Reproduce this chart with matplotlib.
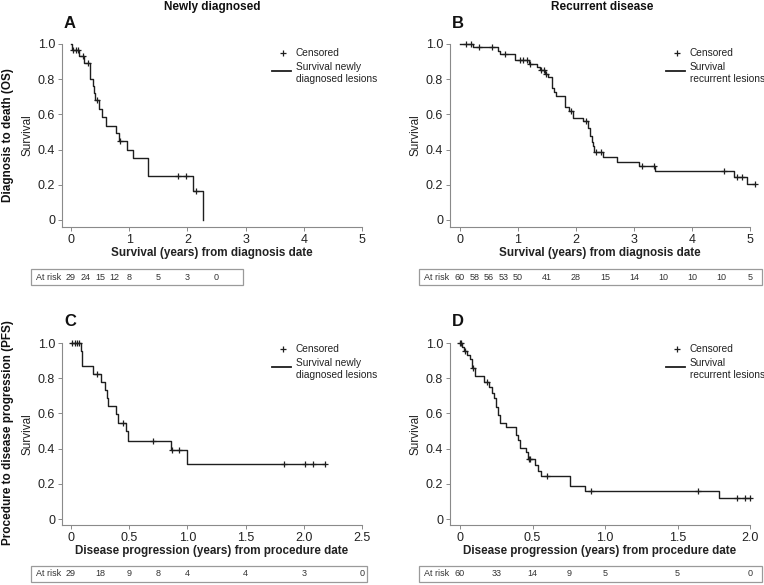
import numpy as np
import matplotlib
matplotlib.use("Agg")
import matplotlib.pyplot as plt
from matplotlib.patches import Rectangle
from matplotlib.lines import Line2D
import matplotlib.transforms as mtransforms

plt.rcParams["font.family"] = ["Liberation Sans", "DejaVu Sans"]

W, H = 764, 585

# ---- data ----
# A: newly diagnosed, OS
a_times = [0.02, 0.13, 0.22, 0.32, 0.38, 0.40, 0.41, 0.48, 0.54, 0.60, 0.78, 0.82,
           0.96, 1.06, 1.32, 1.33, 2.10, 2.27]
a_surv = [0.966, 0.931, 0.893, 0.80, 0.76, 0.72, 0.68, 0.63, 0.585, 0.535, 0.495, 0.45,
          0.40, 0.35, 0.30, 0.25, 0.167, 0.0]
a_cens = [0.04, 0.09, 0.12, 0.20, 0.30, 0.44, 0.85, 1.84, 1.97, 2.14]
a_risk_t = [0, 0.25, 0.5, 0.75, 1.0, 1.5, 2.0, 2.5]
a_risk_n = [29, 24, 15, 12, 8, 5, 3, 0]

# B: recurrent disease, OS
b_times = [0.23, 0.65, 0.69, 0.95, 1.19, 1.33, 1.38, 1.46, 1.52, 1.58, 1.62, 1.66,
           1.81, 1.88, 1.95, 2.12, 2.21, 2.24, 2.27, 2.29, 2.31, 2.47, 2.71, 3.08,
           3.36, 4.73, 4.94]
b_surv = [0.983, 0.963, 0.945, 0.909, 0.885, 0.867, 0.85, 0.83, 0.81, 0.75, 0.73, 0.706,
          0.644, 0.622, 0.582, 0.56, 0.52, 0.48, 0.445, 0.42, 0.385, 0.357, 0.332, 0.307,
          0.28, 0.243, 0.203]
b_cens = [0.10, 0.19, 0.33, 0.56, 0.78, 1.03, 1.09, 1.16, 1.20, 1.40, 1.44, 1.48,
          1.91, 2.18, 2.34, 2.43, 3.14, 3.34, 4.55, 4.77, 4.86, 5.09]
b_risk_t = [0, 0.25, 0.5, 0.75, 1.0, 1.5, 2.0, 2.5, 3.0, 3.5, 4.0, 4.5, 5.0]
b_risk_n = [60, 58, 56, 53, 50, 41, 28, 15, 14, 10, 10, 10, 5]

# C: newly diagnosed, PFS
c_times = [0.083, 0.097, 0.186, 0.26, 0.29, 0.306, 0.32, 0.39, 0.405, 0.477, 0.49,
           0.857, 1.0]
c_surv = [0.955, 0.869, 0.824, 0.78, 0.735, 0.685, 0.64, 0.595, 0.545, 0.50, 0.445,
          0.39, 0.31]
c_cens = [0.006, 0.034, 0.054, 0.071, 0.22, 0.449, 0.706, 0.87, 0.926, 1.834, 2.01,
          2.08, 2.18]
c_risk_t = [0, 0.25, 0.5, 0.75, 1.0, 1.5, 2.0, 2.5]
c_risk_n = [29, 18, 9, 8, 4, 4, 3, 0]

# D: recurrent disease, PFS
d_times = [0.016, 0.03, 0.05, 0.069, 0.085, 0.103, 0.168, 0.20, 0.218, 0.234, 0.246,
           0.264, 0.276, 0.314, 0.388, 0.40, 0.417, 0.456, 0.47, 0.52, 0.539, 0.562,
           0.757, 0.86, 1.787]
d_surv = [0.979, 0.957, 0.932, 0.91, 0.86, 0.814, 0.78, 0.75, 0.714, 0.69, 0.638,
          0.59, 0.544, 0.525, 0.48, 0.45, 0.405, 0.38, 0.34, 0.305, 0.275, 0.245,
          0.19, 0.16, 0.12]
d_cens = [0.0, 0.007, 0.034, 0.087, 0.184, 0.477, 0.486, 0.60, 0.906, 1.64, 1.908,
          1.966, 2.0]
d_risk_t = [0, 0.25, 0.5, 0.75, 1.0, 1.5, 2.0]
d_risk_n = [60, 33, 14, 9, 5, 5, 0]

leg_text_1 = {"A": "Survival newly", "B": "Survival", "C": "Survival newly", "D": "Survival"}
leg_text_2 = {"A": "diagnosed lesions", "B": "recurrent lesions",
              "C": "diagnosed lesions", "D": "recurrent lesions"}

LINE = "#1e1e1e"
SPINE = "#8a8a8a"


def fx(x):
    return x / W


def fy(y):
    return 1 - y / H


def km_panel(fig, box, xlim, ylim, xticks, xticklabels, times, surv, cens,
             letter, xlabel, leg_pos, risk_box, risk_t, risk_n):
    l, t, r, b = box
    ax = fig.add_axes([fx(l), fy(b), fx(r) - fx(l), fy(t) - fy(b)])
    xs = np.r_[0, times]
    ys = np.r_[1.0, surv]
    end = max(cens[-1], times[-1])
    ax.step(np.r_[xs, end], np.r_[ys, ys[-1]], where="post", color=LINE, lw=1.0,
            clip_on=False)
    idx = np.searchsorted(times, cens, side="right")
    ax.plot(cens, ys[idx], "+", color=LINE, ms=4.5, mew=0.9, clip_on=False)

    ax.set_xlim(*xlim)
    ax.set_ylim(*ylim)
    ax.set_xticks(xticks)
    ax.set_xticklabels(xticklabels)
    ax.set_yticks([0, 0.2, 0.4, 0.6, 0.8, 1.0])
    ax.set_yticklabels(["0", "0.2", "0.4", "0.6", "0.8", "1.0"])
    for s in ["top", "right"]:
        ax.spines[s].set_visible(False)
    for s in ["left", "bottom"]:
        ax.spines[s].set_color(SPINE)
        ax.spines[s].set_linewidth(0.8)
    ax.spines["left"].set_bounds(ylim[0], 1.0)
    ax.tick_params(axis="both", labelsize=9, color=SPINE, length=3, width=0.7,
                   pad=2, labelcolor="#222")
    ax.set_xlabel(xlabel, fontsize=8.4, fontweight="bold", labelpad=1, color="#222")
    ax.set_ylabel("Survival", fontsize=8.5, labelpad=3, color="#222")
    ax.patch.set_alpha(0)

    # panel letter
    fig.text(fx(l + 8), fy(t - 21), letter, fontsize=12, fontweight="bold",
             ha="center", va="center", color="#111")

    # legend
    lx, ly = leg_pos
    fig.lines.append(Line2D([fx(lx + 11)], [fy(ly)], marker="+", color=LINE, ms=4.5,
                            mew=0.9, transform=fig.transFigure))
    fig.text(fx(lx + 24), fy(ly), "Censored", fontsize=7.3, va="center", color="#222")
    fig.lines.append(Line2D([fx(lx), fx(lx + 19)], [fy(ly + 17.5)] * 2, color=LINE,
                            lw=1.3, transform=fig.transFigure))
    fig.text(fx(lx + 24), fy(ly + 14), leg_text_1[letter], fontsize=7.3, va="center",
             color="#222")
    fig.text(fx(lx + 24), fy(ly + 26), leg_text_2[letter], fontsize=7.3, va="center",
             color="#222")

    # at-risk box
    bl, bt, br, bb = risk_box
    fig.patches.append(Rectangle((fx(bl), fy(bb)), fx(br) - fx(bl), fy(bt) - fy(bb),
                                 transform=fig.transFigure, fill=False,
                                 edgecolor="#9a9a9a", lw=0.9))
    ymid = fy((bt + bb) / 2)
    fig.text(fx(bl + 5), ymid, "At risk", fontsize=6.5, va="center", color="#333")
    trans = mtransforms.blended_transform_factory(ax.transData, fig.transFigure)
    for tt, n in zip(risk_t, risk_n):
        ax.text(tt, ymid, str(n), transform=trans, fontsize=6.5, ha="center",
                va="center", color="#333", clip_on=False)
    return ax


fig = plt.figure(figsize=(7.64, 5.85), dpi=100)

km_panel(fig, (62, 44, 362, 227), (-0.155, 5.0), (-0.04, 1.0), range(6),
         [str(i) for i in range(6)], a_times, a_surv, a_cens, "A",
         "Survival (years) from diagnosis date", (272, 53), (31, 269, 243, 285),
         a_risk_t, a_risk_n)
km_panel(fig, (450, 44, 750, 227), (-0.172, 5.0), (-0.04, 1.0), range(6),
         [str(i) for i in range(6)], b_times, b_surv, b_cens, "B",
         "Survival (years) from diagnosis date", (666, 53), (419, 269, 762, 285),
         b_risk_t, b_risk_n)
km_panel(fig, (62, 343, 362, 525), (-0.077, 2.5), (-0.034, 1.0),
         [0, 0.5, 1.0, 1.5, 2.0, 2.5], ["0", "0.5", "1.0", "1.5", "2.0", "2.5"],
         c_times, c_surv, c_cens, "C",
         "Disease progression (years) from procedure date", (272, 349),
         (31, 566, 367, 582), c_risk_t, c_risk_n)
km_panel(fig, (450, 343, 750, 525), (-0.069, 2.0), (-0.034, 1.0),
         [0, 0.5, 1.0, 1.5, 2.0], ["0", "0.5", "1.0", "1.5", "2.0"],
         d_times, d_surv, d_cens, "D",
         "Disease progression (years) from procedure date", (666, 349),
         (419, 566, 762, 582), d_risk_t, d_risk_n)

# column and row titles
fig.text(fx(212), fy(7), "Newly diagnosed", fontsize=8.5, fontweight="bold",
         ha="center", va="center", color="#111")
fig.text(fx(602), fy(7), "Recurrent disease", fontsize=8.5, fontweight="bold",
         ha="center", va="center", color="#111")
fig.text(fx(8), fy(135), "Diagnosis to death (OS)", fontsize=8.5, fontweight="bold",
         rotation=90, ha="center", va="center", color="#111")
fig.text(fx(8), fy(433), "Procedure to disease progression (PFS)", fontsize=8.5,
         fontweight="bold", rotation=90, ha="center", va="center", color="#111")

fig.savefig("out.png", dpi=100)
